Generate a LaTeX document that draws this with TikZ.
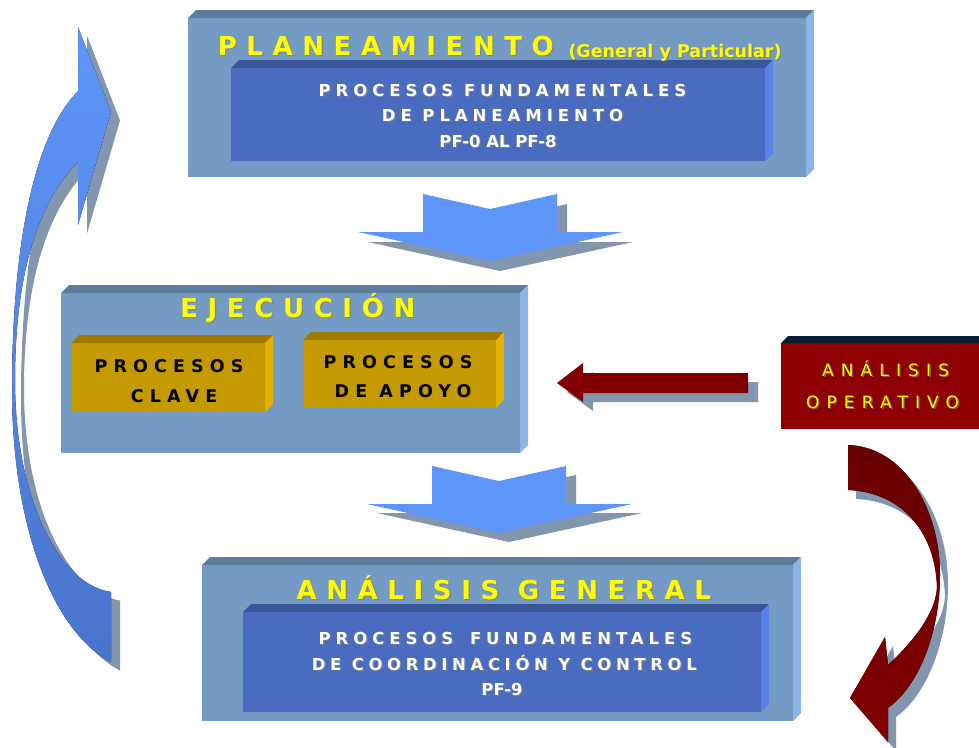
\documentclass[tikz,border=0pt]{standalone}
\usepackage{fontspec}
\setmainfont{DejaVu Sans}

% palette
\definecolor{panel}{HTML}{749BC4}
\definecolor{paneltop}{HTML}{5C7C9E}
\definecolor{panelside}{HTML}{8CB4E4}
\definecolor{core}{HTML}{4A6CC0}
\definecolor{coretop}{HTML}{3B5599}
\definecolor{coreside}{HTML}{5A82E4}
\definecolor{gold}{HTML}{C49A00}
\definecolor{goldtop}{HTML}{9E7B00}
\definecolor{goldside}{HTML}{E2B200}
\definecolor{wine}{HTML}{8E0000}
\definecolor{navy}{HTML}{0B1D33}
\definecolor{maroon}{HTML}{800000}
\definecolor{maroondark}{HTML}{680000}
\definecolor{flowblue}{HTML}{5E95F9}
\definecolor{loopblue}{HTML}{4974CC}
\definecolor{dropgray}{HTML}{8296AE}
\definecolor{titleyellow}{HTML}{FFFF00}

% tracked (letter-spaced) text, trailing space removed
\newcommand{\trk}[2]{{\addfontfeatures{LetterSpace=#1}#2\kern-\dimexpr #1em/100\relax}}

% extruded slab: front x1 y1 x2 y2, depth, front/top/side colours
\newcommand{\slab}[8]{%
  \fill[#6] (#1,#2) rectangle (#3,#4);
  \fill[#7] (#1,#2) -- (#1+#5,#2-#5) -- (#3+#5,#2-#5) -- (#3,#2) -- cycle;
  \fill[#8] (#3,#2) -- (#3+#5,#2-#5) -- (#3+#5,#4-#5) -- (#3,#4) -- cycle;}

% text with a soft drop shadow: name, x, y, style, text
\newcommand{\castnode}[5]{%
  \node[#4,text=black!50,opacity=0.7] (#1s) at (#2+1.4,#3+1.4) {#5};
  \node[#4] (#1) at (#2,#3) {#5};}

% block arrows
\newcommand{\chevrondown}[1]{%
  \fill[#1] (423,194) -- (490,209) -- (557,194) -- (557,232) -- (623,232)
    -- (490,261) -- (358,232) -- (423,232) -- cycle;}
\newcommand{\looparrow}[1]{%
  \fill[#1] (111,662) -- (111,592) .. controls (60,585) and (15,500) .. (15,380)
    .. controls (15,270) and (40,200) .. (78,162) -- (78,225) -- (111,112) -- (78,27)
    -- (78,91) .. controls (30,140) and (12,260) .. (12,390)
    .. controls (12,520) and (50,630) .. (111,662) -- cycle;}
\newcommand{\returnarrow}[1]{%
  \fill[#1] (848,445) .. controls (905,447) and (940,510) .. (940,575)
    .. controls (940,630) and (920,685) .. (888,708) -- (888,742) -- (850,698)
    -- (885,637) -- (888,665) .. controls (915,640) and (936,612) .. (937,587)
    .. controls (935,530) and (900,492) .. (848,490) -- cycle;}
\newcommand{\feedarrow}[1]{%
  \fill[#1] (557,383) -- (583,363) -- (583,373) -- (748,373) -- (748,393)
    -- (583,393) -- (583,402) -- cycle;}

\tikzset{
  heading/.style={font=\bfseries\fontsize{26}{26}\selectfont, text=titleyellow, inner sep=0, anchor=base},
  subheading/.style={font=\bfseries\fontsize{17.5}{17.5}\selectfont, text=titleyellow, inner sep=0, anchor=base},
  corelabel/.style={font=\bfseries\fontsize{16.5}{16.5}\selectfont, text=white, inner sep=0, anchor=base},
  goldlabel/.style={font=\bfseries\fontsize{17.5}{17.5}\selectfont, text=black, inner sep=0, anchor=base},
  winelabel/.style={font=\fontsize{17}{17}\selectfont, text=titleyellow, inner sep=0, anchor=base},
  dropshadow/.style={fill=dropgray},
}

\begin{document}
\begin{tikzpicture}[x=1pt,y=-1pt]
\useasboundingbox (0,0) rectangle (979,747);
\fill[white] (0,0) rectangle (979,747);
\clip (0,0) rectangle (979,747);

% ---- PLANEAMIENTO
\slab{188}{18}{806}{177}{8}{panel}{paneltop}{panelside}
\slab{231}{68}{765}{161}{8}{core}{coretop}{coreside}
\castnode{plan}{381}{55}{heading}{\trk{37}{PLANEAMIENTO}}
\castnode{plansub}{675}{57}{subheading}{(General y Particular)}
\castnode{planA}{500}{96}{corelabel}{\trk{30}{PROCESOS FUNDAMENTALES}}
\castnode{planB}{500}{121}{corelabel}{\trk{30}{DE PLANEAMIENTO}}
\castnode{planC}{498}{147}{corelabel}{PF-0 AL PF-8}

% ---- arrow to EJECUCION
\chevrondown{dropshadow,shift={(10,10)}}
\chevrondown{flowblue}

% ---- EJECUCION
\slab{61}{293}{520}{453}{8}{panel}{paneltop}{panelside}
\castnode{ejec}{293}{317}{heading}{\trk{37}{EJECUCIÓN}}
\slab{71}{343}{265}{412}{8}{gold}{goldtop}{goldside}
\slab{303}{340}{496}{408}{8}{gold}{goldtop}{goldside}
\node[goldlabel] (claveA) at (166,372) {\trk{35}{PROCESOS}};
\node[goldlabel] (claveB) at (171,402) {\trk{35}{CLAVE}};
\node[goldlabel] (apoyoA) at (395,368) {\trk{35}{PROCESOS}};
\node[goldlabel] (apoyoB) at (400,397) {\trk{35}{DE APOYO}};

% ---- ANALISIS OPERATIVO
\fill[wine] (781,343) rectangle (990,429);
\fill[navy] (781,343) -- (788,336) -- (990,336) -- (990,343) -- cycle;
\castnode{opA}{882}{376}{winelabel}{\trk{42}{ANÁLISIS}}
\castnode{opB}{879}{408}{winelabel}{\trk{42}{OPERATIVO}}
\feedarrow{dropshadow,shift={(10,9)}}
\feedarrow{maroon}

% ---- arrow to ANALISIS GENERAL
\begin{scope}[shift={(9,272)}]
\chevrondown{dropshadow,shift={(10,9)}}
\chevrondown{flowblue}
\end{scope}

% ---- ANALISIS GENERAL
\slab{202}{565}{793}{721}{8}{panel}{paneltop}{panelside}
\slab{243}{612}{761}{712}{8}{core}{coretop}{coreside}
\castnode{gen}{499}{599}{heading}{\trk{37}{ANÁLISIS GENERAL}}
\castnode{genA}{503}{644}{corelabel}{\trk{30}{PROCESOS\hspace{6pt} FUNDAMENTALES}}
\castnode{genB}{502}{670}{corelabel}{\trk{28}{DE COORDINACIÓN Y CONTROL}}
\castnode{genC}{502}{695}{corelabel}{PF-9}

% ---- feedback loops
\looparrow{dropshadow,shift={(9,8.5)}}
\looparrow{top color=flowblue,bottom color=loopblue}
\returnarrow{dropshadow,shift={(8,9)}}
\returnarrow{top color=maroondark,bottom color=maroon}
\end{tikzpicture}
\end{document}
